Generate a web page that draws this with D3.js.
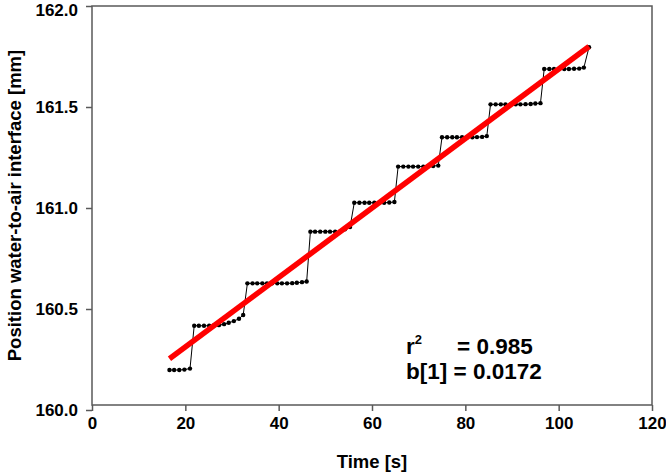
<!DOCTYPE html>
<html>
<head>
<meta charset="utf-8">
<script src="https://cdn.jsdelivr.net/npm/d3@7"></script>
<style>
  body { margin: 0; background: #fff; }
  svg { display: block; font-family: "Liberation Sans", Arial, sans-serif; font-weight: bold; }
</style>
</head>
<body>
<svg id="chart" width="666" height="474"></svg>
<script>
// measured time [s]
var timeS = [
  16.6, 17.6, 18.7, 19.8, 21.0,
  21.9, 22.9, 24.0, 25.1, 26.1, 27.2, 28.3, 29.3, 30.4, 31.5, 32.4,
  33.3, 34.4, 35.4, 36.5, 37.5, 38.6, 39.7, 40.7, 41.8, 42.9, 43.9, 45.0, 46.0,
  46.8, 47.8, 48.9, 50.0, 51.0, 52.1, 53.2, 54.2, 55.3,
  56.2, 57.3, 58.4, 59.4, 60.5, 61.6, 62.6, 63.7, 64.8,
  65.6, 66.7, 67.8, 68.8, 69.9, 71.0, 72.0, 73.1, 74.2,
  75.0, 76.1, 77.2, 78.2, 79.3, 80.4, 81.5, 82.5, 83.6, 84.6,
  85.4, 86.5, 87.6, 88.6, 89.7, 90.8, 91.8, 92.9, 94.0, 95.0, 96.1,
  96.9, 98.0, 99.0, 100.1, 101.2, 102.2, 103.3, 104.4, 105.4,
  106.5
];
// position of water-to-air interface [mm]
var positionMm = [
  160.198, 160.198, 160.198, 160.200, 160.205,
  160.417, 160.417, 160.417, 160.417, 160.418, 160.420, 160.425, 160.432, 160.440, 160.452, 160.470,
  160.627, 160.627, 160.627, 160.627, 160.627, 160.627, 160.627, 160.627, 160.627, 160.628, 160.630, 160.633, 160.636,
  160.883, 160.883, 160.883, 160.883, 160.883, 160.883, 160.884, 160.895, 160.906,
  161.026, 161.026, 161.026, 161.026, 161.026, 161.026, 161.026, 161.027, 161.030,
  161.205, 161.205, 161.205, 161.205, 161.205, 161.205, 161.207, 161.208, 161.210,
  161.350, 161.350, 161.350, 161.350, 161.350, 161.350, 161.350, 161.351, 161.352, 161.356,
  161.513, 161.513, 161.513, 161.513, 161.513, 161.513, 161.513, 161.514, 161.515, 161.517, 161.519,
  161.688, 161.688, 161.688, 161.688, 161.688, 161.688, 161.689, 161.690, 161.695,
  161.796
];
// linear regression
var fitB0 = 159.968;
var fitB1 = 0.0172;
var fitR2 = 0.985;

var xTicks = [0, 20, 40, 60, 80, 100, 120];
var yTicks = [160.0, 160.5, 161.0, 161.5, 162.0];

var svg = d3.select("#chart");

var L = 92, R = 652, T = 6, B = 410;
var frameB = 405;

var xScale = d3.scaleLinear().domain([0, 120]).range([L, R]);
var yScale = d3.scaleLinear().domain([160, 162]).range([B, T]);

var frameColor = "#595959";

// frame
svg.append("rect")
    .attr("x", L).attr("y", T)
    .attr("width", R - L).attr("height", frameB - T)
    .attr("fill", "none")
    .attr("stroke", frameColor)
    .attr("stroke-width", 1.5);

var xAxis = d3.axisBottom(xScale).tickValues(xTicks).tickSize(6).tickPadding(6).tickFormat(d3.format("d"));
var yAxis = d3.axisLeft(yScale).tickValues(yTicks).tickSize(6).tickPadding(8).tickFormat(d3.format(".1f"));

var gx = svg.append("g")
    .attr("transform", "translate(0," + frameB + ")")
    .call(xAxis);
var gy = svg.append("g")
    .attr("transform", "translate(" + L + ",0)")
    .call(yAxis);

[gx, gy].forEach(function(g) {
  g.select(".domain").remove();
  g.selectAll(".tick line").attr("stroke", frameColor).attr("stroke-width", 1.5);
  g.selectAll(".tick text")
      .attr("fill", "#000")
      .style("font-size", "17px")
      .style("font-weight", "bold")
      .style("font-family", "'Liberation Sans', Arial, sans-serif");
});
// keep top label inside the picture
gy.selectAll(".tick text").filter(function(d) { return d === 162; }).attr("dy", "0.55em");

// data line + points
var pts = [];
for (var i = 0; i < timeS.length; i++)
  pts.push([timeS[i], positionMm[i]]);

var lineGen = d3.line()
    .x(function(p) { return xScale(p[0]); })
    .y(function(p) { return yScale(p[1]); });

svg.append("path")
    .attr("d", lineGen(pts))
    .attr("stroke", "#000")
    .attr("stroke-width", 1)
    .attr("fill", "none");

svg.append("g").selectAll("circle")
    .data(pts)
    .enter().append("circle")
    .attr("cx", function(p) { return xScale(p[0]); })
    .attr("cy", function(p) { return yScale(p[1]); })
    .attr("r", 2.2)
    .attr("fill", "#000");

// regression line
var t0 = timeS[0], t1 = timeS[timeS.length - 1];
var fit = [[t0, fitB0 + fitB1 * t0], [t1, fitB0 + fitB1 * t1]];
svg.append("path")
    .attr("d", lineGen(fit))
    .attr("stroke", "#ff0000")
    .attr("stroke-width", 5.5)
    .attr("fill", "none");

// annotation
var r2 = svg.append("text").attr("x", 406).attr("y", 354).style("font-size", "22.5px");
r2.append("tspan").text("r");
r2.append("tspan").attr("dy", -10).style("font-size", "13px").text("2");
svg.append("text").attr("x", 457).attr("y", 354).style("font-size", "22.5px")
    .text("= " + d3.format(".3f")(fitR2));
svg.append("text").attr("x", 406).attr("y", 379).style("font-size", "22.5px")
    .text("b[1] = " + fitB1);

// axis titles
svg.append("text")
    .attr("x", (L + R) / 2).attr("y", 468)
    .attr("text-anchor", "middle")
    .style("font-size", "18.5px")
    .text("Time [s]");
svg.append("text")
    .attr("transform", "translate(21," + ((T + frameB) / 2) + ") rotate(-90)")
    .attr("text-anchor", "middle")
    .style("font-size", "18.5px")
    .text("Position water-to-air interface [mm]");
</script>
</body>
</html>
